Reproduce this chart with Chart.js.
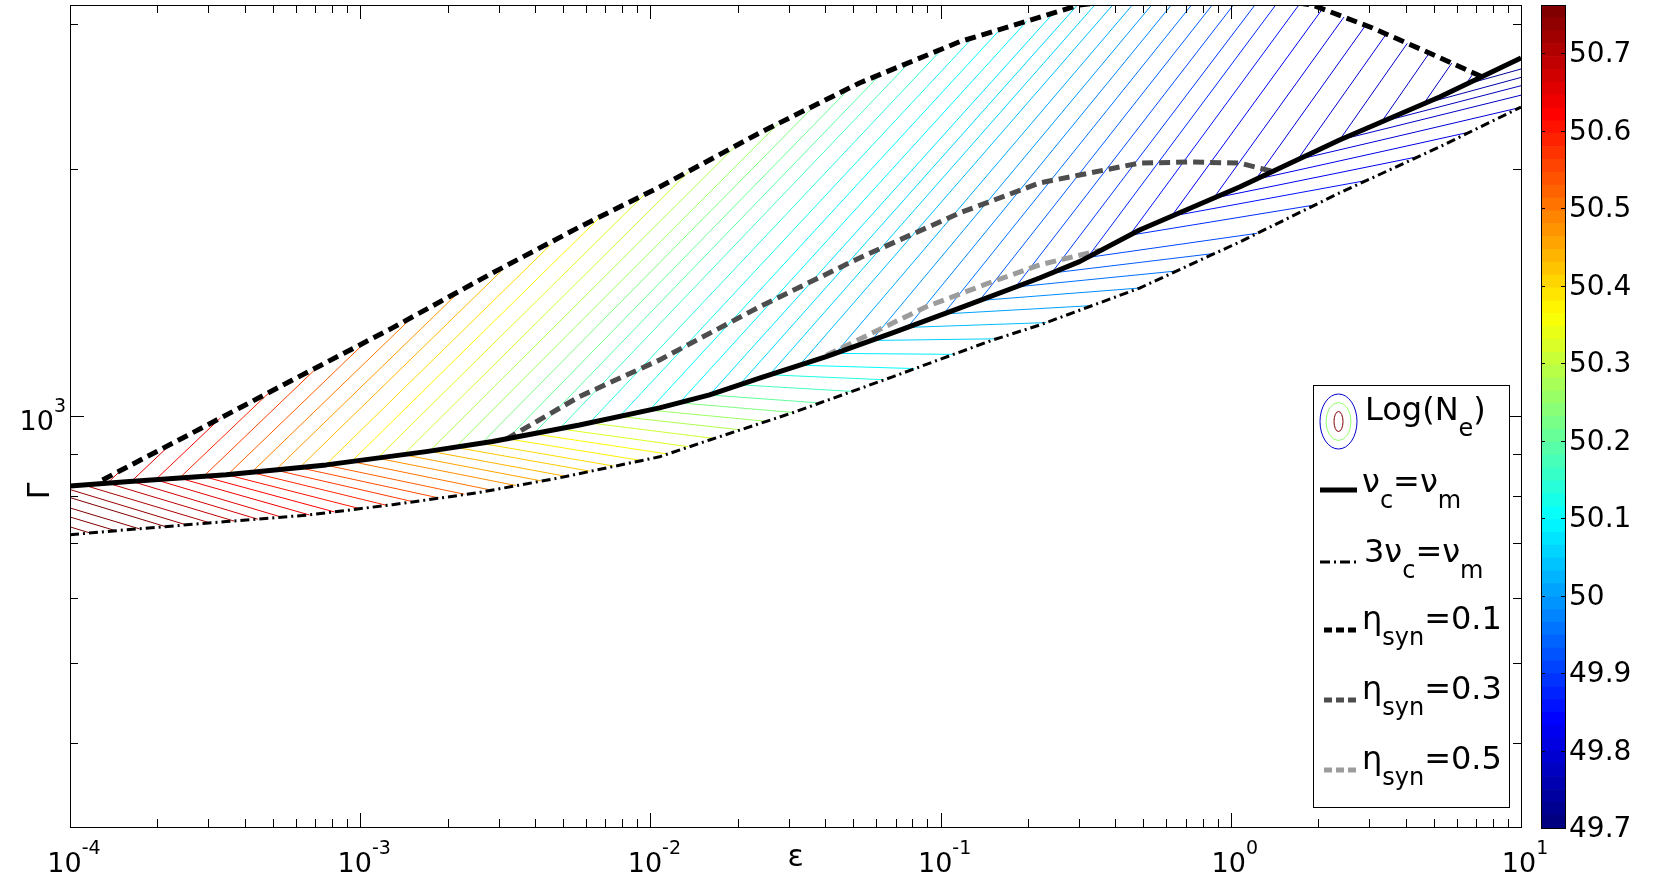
<!DOCTYPE html>
<html>
<head>
<meta charset="utf-8">
<script src="https://cdn.jsdelivr.net/npm/chart.js@4.4.0/dist/chart.umd.min.js"></script>
<style>
  html, body { margin: 0; padding: 0; background: #fff; overflow: hidden; }
  #wrap { position: relative; width: 1680px; height: 875px; }
  #main { position: absolute; left: 0; top: 0; }
  #cbar { position: absolute; left: 1541px; top: 0; }
</style>
</head>
<body>
<div id="wrap">
  <canvas id="main" width="1680" height="875"></canvas>
  <canvas id="cbar" width="139" height="875"></canvas>
</div>
<script>
// ---- boundary curves (epsilon, Gamma) ----
const nuEqEps   = [1e-4, 1.562e-4, 3.453e-4, 7.636e-4, 1.688e-3, 2.857e-3, 5.697e-3, 1.075e-2, 1.599e-2, 2.377e-2, 4.035e-2, 6.830e-2, 0.1162, 0.2193, 0.3011, 0.4849, 1.072, 2.370, 5.240, 10];
const nuEqGamma = [822, 832, 848, 872, 905, 931, 975, 1023, 1061, 1112, 1181, 1262, 1353, 1472, 1541, 1684, 1899, 2167, 2444, 2726];

const nu3Eps   = [1e-4, 1.562e-4, 3.453e-4, 6.687e-4, 1.292e-3, 2.510e-3, 4.862e-3, 1.075e-2, 1.599e-2, 3.088e-2, 6.830e-2, 0.1510, 0.2193, 0.4849, 1.072, 2.370, 5.240, 10];
const nu3Gamma = [717, 727, 744, 758, 780, 806, 841, 892, 935, 1009, 1116, 1237, 1290, 1431, 1628, 1868, 2125, 2376];

const eta01Eps   = [1.294e-4, 2.643e-4, 5.845e-4, 1.292e-3, 2.857e-3, 5.697e-3, 1.075e-2, 2.377e-2, 5.256e-2, 0.1162, 0.3011, 0.78, 1.912, 3.079, 4.579, 7.372];
const eta01Gamma = [836, 954, 1106, 1280, 1493, 1698, 1899, 2210, 2542, 2853, 3162, 3300, 3162, 2965, 2788, 2584];

const eta03Eps   = [3.185e-3, 5.697e-3, 1.075e-2, 2.377e-2, 5.256e-2, 0.1162, 0.2193, 0.3011, 0.4849, 0.7209, 1.072, 1.393];
const eta03Gamma = [937, 1056, 1170, 1358, 1557, 1766, 1921, 1964, 2031, 2037, 2031, 1984];

const eta05Eps   = [4.035e-2, 8.924e-2, 0.1510, 0.2193, 0.3529];
const eta05Gamma = [1185, 1358, 1457, 1527, 1590];

// ---- Log(Ne) contour lines ----
// points per line: (upper end, kink on nu_c=nu_m, lower end); lines entering from the left edge have 2 points
// lowerLevels colour the branch below nu_c=nu_m, upperLevels the branch above it
const lowerLevels = [50.82, 50.80, 50.78, 50.76, 50.74,
  50.72, 50.70, 50.68, 50.66, 50.65, 50.63, 50.61, 50.59, 50.57, 50.55,
  50.53, 50.51, 50.48, 50.46, 50.44, 50.42, 50.40, 50.38, 50.36, 50.33,
  50.31, 50.28, 50.26, 50.23, 50.20, 50.17, 50.13, 50.10,
  50.08, 50.05, 50.03, 50.00, 49.98, 49.95, 49.93, 49.91,
  49.88, 49.85, 49.82, 49.81, 49.79, 49.77, 49.76, 49.74, 49.72];

const upperLevels = [null, null, null, null, null,
  null, 50.68, 50.65, 50.62, 50.59, 50.56, 50.53, 50.50, 50.47, 50.44,
  50.40, 50.37, 50.33, 50.31, 50.28, 50.26, 50.23, 50.21, 50.19, 50.17,
  50.14, 50.12, 50.10, 50.09, 50.07, 50.06, 50.05, 50.03,
  50.01, 49.99, 49.97, 49.95, 49.93, 49.91, 49.89, 49.87,
  49.85, 49.83, 49.81, 49.80, 49.79, 49.78, 49.77, 49.76, 49.75];

const contourEps = [
  [1e-4, 1.178e-4], [1e-4, 1.444e-4], [1e-4, 1.737e-4], [1e-4, 2.137e-4], [1e-4, 2.522e-4],
  [1.113e-4, 3.042e-4],
  [1.500e-4, 1.347e-4, 3.674e-4],
  [2.222e-4, 1.629e-4, 4.434e-4],
  [3.299e-4, 1.971e-4, 5.364e-4],
  [4.862e-4, 2.384e-4, 6.683e-4],
  [7.139e-4, 2.884e-4, 8.156e-4],
  [1.046e-3, 3.489e-4, 9.945e-4],
  [1.505e-3, 4.221e-4, 1.234e-3],
  [2.158e-3, 5.107e-4, 1.518e-3],
  [3.086e-3, 6.179e-4, 1.867e-3],
  [4.537e-3, 7.593e-4, 2.285e-3],
  [6.742e-3, 9.333e-4, 2.817e-3],
  [9.536e-3, 1.147e-3, 3.435e-3],
  [1.369e-2, 1.410e-3, 4.194e-3],
  [1.970e-2, 1.733e-3, 5.100e-3],
  [2.757e-2, 2.130e-3, 6.174e-3],
  [3.689e-2, 2.618e-3, 7.475e-3],
  [4.874e-2, 3.218e-3, 9.224e-3],
  [6.199e-2, 3.956e-3, 1.137e-2],
  [7.797e-2, 4.862e-3, 1.350e-2],
  [0.1012, 6.169e-3, 1.649e-2],
  [0.1285, 7.827e-3, 2.033e-2],
  [0.1601, 9.930e-3, 2.501e-2],
  [0.1978, 1.260e-2, 3.118e-2],
  [0.2444, 1.599e-2, 3.848e-2],
  [0.2942, 2.028e-2, 4.961e-2],
  [0.3400, 2.573e-2, 6.382e-2],
  [0.3918, 3.265e-2, 8.124e-2],
  [0.4578, 4.345e-2, 0.1105],
  [0.5336, 5.781e-2, 0.1555],
  [0.6239, 7.692e-2, 0.2308],
  [0.7323, 0.1023, 0.3325],
  [0.8630, 0.1362, 0.4852],
  [1.021, 0.1812, 0.6501],
  [1.211, 0.2411, 0.8825],
  [1.428, 0.3208, 1.234],
  [1.716, 0.4477, 1.959],
  [2.071, 0.6249, 2.950],
  [2.456, 0.8720, 4.449],
  [2.913, 1.217, 6.696],
  [3.433, 1.698, 9.911],
  [4.055, 2.370, 10],
  [4.829, 3.307, 10],
  [5.773, 4.616, 10],
  [6.863, 6.440, 10]
];

const contourGamma = [
  [733.0, 720.2], [753.6, 724.8], [772.9, 728.9], [795.7, 733.4], [813.8, 736.9],
  [824.3, 741.1],
  [859.3, 828.7, 745.1],
  [924.0, 832.9, 749.0],
  [994.5, 836.6, 753.2],
  [1068.3, 840.4, 757.9],
  [1147.4, 844.2, 764.3],
  [1231.7, 848.0, 771.6],
  [1317.3, 853.7, 778.6],
  [1408.3, 859.4, 786.7],
  [1504.9, 865.2, 794.9],
  [1616.3, 871.6, 803.2],
  [1749.0, 880.2, 812.8],
  [1859.6, 888.6, 823.2],
  [1989.4, 897.3, 833.9],
  [2131.7, 906.2, 844.7],
  [2268.3, 916.1, 856.9],
  [2387.8, 926.2, 869.2],
  [2507.8, 938.2, 883.1],
  [2603.1, 951.4, 899.3],
  [2690.9, 964.9, 917.7],
  [2795.2, 980.9, 939.3],
  [2882.0, 998.7, 962.1],
  [2951.8, 1016.7, 985.4],
  [3020, 1037.7, 1009.7],
  [3090, 1060.6, 1037.1],
  [3154, 1091.4, 1071.3],
  [3162.3, 1122.4, 1106.9],
  [3162.3, 1153.0, 1142.1],
  [3162.3, 1191.7, 1188.5],
  [3162.3, 1235.6, 1241.4],
  [3162.3, 1281.7, 1299.0],
  [3162.3, 1330.8, 1362.4],
  [3162.3, 1382.0, 1431.2],
  [3162.3, 1435.3, 1501.1],
  [3162.3, 1492.3, 1577.2],
  [3162.3, 1558.9, 1668.4],
  [3162.3, 1658.9, 1806.8],
  [3129, 1750.1, 1935.1],
  [3058, 1840.6, 2068.7],
  [2987, 1939.6, 2216.2],
  [2915, 2050.3, 2372.5],
  [2840, 2166.5, 2456.4],
  [2764, 2279.2, 2522.3],
  [2687, 2397.2, 2581.7],
  [2614, 2531.0, 2643.0]
];

// ---- axes / colorbar ticks ----
const epsRange = [1e-4, 10];
const gammaRange = [316.2278, 3162.278];
const xMajorTicks = [1e-4, 1e-3, 1e-2, 1e-1, 1, 10];
const xTickExponents = ['-4', '-3', '-2', '-1', '0', '1'];
const minorMultipliers = [2, 3, 4, 5, 6, 7, 8, 9];
const yMajorTicks = [1000];
const yTickExponents = ['3'];
const yMinorTicks = [400, 500, 600, 700, 800, 900, 2000, 3000];
const cbRange = [49.7, 50.762];
const cbTicks = [49.7, 49.8, 49.9, 50.0, 50.1, 50.2, 50.3, 50.4, 50.5, 50.6, 50.7];
const cbLabels = ['49.7', '49.8', '49.9', '50', '50.1', '50.2', '50.3', '50.4', '50.5', '50.6', '50.7'];
const cbColors = 64;

const FONT = '"DejaVu Sans", "Liberation Sans", sans-serif';

function jet(t) {
  t = Math.max(0, Math.min(1, t));
  var c = function (v) { return Math.round(255 * Math.max(0, Math.min(1, 1.5 - Math.abs(v)))); };
  return 'rgb(' + c(4 * t - 3) + ',' + c(4 * t - 2) + ',' + c(4 * t - 1) + ')';
}
function levelColor(v) {
  return jet((v - cbRange[0]) / (cbRange[1] - cbRange[0]));
}
function pts(xs, ys) {
  return xs.map(function (x, i) { return { x: x, y: ys[i] }; });
}

var lineBase = { showLine: true, pointRadius: 0, pointHoverRadius: 0, fill: false, tension: 0, clip: 0,
                 borderCapStyle: 'butt', borderJoinStyle: 'round' };

var datasets = [
  Object.assign({ label: 'nu_c=nu_m', data: pts(nuEqEps, nuEqGamma), borderColor: '#000', borderWidth: 5, order: 0 }, lineBase),
  Object.assign({ label: '3nu_c=nu_m', data: pts(nu3Eps, nu3Gamma), borderColor: '#000', borderWidth: 3, borderDash: [9, 4, 2, 4], order: 0 }, lineBase),
  Object.assign({ label: 'eta_syn=0.1', data: pts(eta01Eps, eta01Gamma), borderColor: '#000', borderWidth: 5, borderDash: [11, 6], order: 0 }, lineBase),
  Object.assign({ label: 'eta_syn=0.3', data: pts(eta03Eps, eta03Gamma), borderColor: '#4d4d4d', borderWidth: 5, borderDash: [11, 6], order: 0 }, lineBase),
  Object.assign({ label: 'eta_syn=0.5', data: pts(eta05Eps, eta05Gamma), borderColor: '#9c9c9c', borderWidth: 5, borderDash: [11, 6], order: 0 }, lineBase)
];
contourEps.forEach(function (xs, i) {
  var line = pts(xs, contourGamma[i]);
  if (line.length === 3) {
    datasets.push(Object.assign({ label: 'Log(Ne) ' + upperLevels[i], data: line.slice(0, 2),
      borderColor: levelColor(upperLevels[i]), borderWidth: 1, order: 1 }, lineBase));
    line = line.slice(1);
  }
  datasets.push(Object.assign({ label: 'Log(Ne) ' + lowerLevels[i], data: line,
    borderColor: levelColor(lowerLevels[i]), borderWidth: 1, order: 1 }, lineBase));
});

function richText(ctx, parts, x, y) {
  var cx = x;
  parts.forEach(function (p) {
    ctx.font = p[1] + 'px ' + FONT;
    ctx.fillText(p[0], cx, y + p[2]);
    cx += ctx.measureText(p[0]).width;
  });
  return cx;
}
function richWidth(ctx, parts) {
  var w = 0;
  parts.forEach(function (p) { ctx.font = p[1] + 'px ' + FONT; w += ctx.measureText(p[0]).width; });
  return w;
}
function seg(ctx, x1, y1, x2, y2) {
  ctx.beginPath(); ctx.moveTo(x1, y1); ctx.lineTo(x2, y2); ctx.stroke();
}

var axesPlugin = {
  id: 'matlabAxes',
  afterDraw: function (chart) {
    var ctx = chart.ctx, a = chart.chartArea, xs = chart.scales.x, ys = chart.scales.y;
    ctx.save();
    ctx.strokeStyle = '#000';
    ctx.fillStyle = '#000';
    ctx.lineWidth = 1;
    ctx.setLineDash([]);
    ctx.strokeRect(a.left + 0.5, a.top + 0.5, a.right - a.left, a.bottom - a.top);

    // inward ticks on all four sides
    function xt(v, len) {
      var px = Math.round(xs.getPixelForValue(v)) + 0.5;
      seg(ctx, px, a.bottom, px, a.bottom - len);
      seg(ctx, px, a.top, px, a.top + len);
    }
    function yt(v, len) {
      var py = Math.round(ys.getPixelForValue(v)) + 0.5;
      seg(ctx, a.left, py, a.left + len, py);
      seg(ctx, a.right, py, a.right - len, py);
    }
    xMajorTicks.forEach(function (d, i) {
      xt(d, 14);
      if (i < xMajorTicks.length - 1) minorMultipliers.forEach(function (m) { xt(m * d, 8); });
    });
    yMajorTicks.forEach(function (v) { yt(v, 14); });
    yMinorTicks.forEach(function (v) { yt(v, 8); });

    // tick labels 10^k
    ctx.textAlign = 'left';
    ctx.textBaseline = 'alphabetic';
    xMajorTicks.forEach(function (d, i) {
      var parts = [['10', 27, 0], [xTickExponents[i], 19, -18]];
      var w = richWidth(ctx, parts);
      richText(ctx, parts, xs.getPixelForValue(d) - w / 2 + 4, 872);
    });
    yMajorTicks.forEach(function (v, i) {
      var parts = [['10', 27, 0], [yTickExponents[i], 19, -18]];
      var w = richWidth(ctx, parts);
      richText(ctx, parts, 66 - w, ys.getPixelForValue(v) + 14);
    });

    // axis titles
    ctx.font = '30px ' + FONT;
    ctx.textAlign = 'center';
    ctx.fillText('\u03b5', (a.left + a.right) / 2, 866);
    ctx.save();
    ctx.translate(41, 491);
    ctx.rotate(-Math.PI / 2);
    ctx.textBaseline = 'middle';
    ctx.fillText('\u0393', 0, 0);
    ctx.restore();

    // legend
    ctx.textAlign = 'left';
    ctx.textBaseline = 'alphabetic';
    ctx.fillStyle = '#fff';
    ctx.fillRect(1313.5, 385.5, 196, 422);
    ctx.strokeStyle = '#000';
    ctx.strokeRect(1313.5, 385.5, 196, 422);
    ctx.fillStyle = '#000';

    [[18.5, 27.5, levelColor(49.78)], [12.5, 19, levelColor(50.25)], [4.5, 10, levelColor(50.78)]].forEach(function (e) {
      ctx.strokeStyle = e[2];
      ctx.beginPath();
      ctx.ellipse(1338.5, 421.5, e[0], e[1], 0, 0, Math.PI * 2);
      ctx.stroke();
    });
    richText(ctx, [['Log(N', 32, 0], ['e', 24, 16], [')', 32, 0]], 1365, 420);

    ctx.strokeStyle = '#000';
    ctx.lineWidth = 5;
    seg(ctx, 1320, 490, 1357, 490);
    richText(ctx, [['\u03bd', 32, 0], ['c', 24, 16], ['=\u03bd', 32, 0], ['m', 24, 16]], 1362, 492);

    ctx.lineWidth = 3;
    ctx.setLineDash([10, 4, 2, 4]);
    seg(ctx, 1320, 562, 1356, 562);
    richText(ctx, [['3\u03bd', 32, 0], ['c', 24, 16], ['=\u03bd', 32, 0], ['m', 24, 16]], 1364, 562);

    var etaRows = [['0.1', '#000', 630], ['0.3', '#4d4d4d', 700], ['0.5', '#9c9c9c', 770]];
    etaRows.forEach(function (r) {
      ctx.strokeStyle = r[1];
      ctx.lineWidth = 5;
      ctx.setLineDash([8, 4]);
      seg(ctx, 1324, r[2], 1358, r[2]);
      ctx.setLineDash([]);
      richText(ctx, [['\u03b7', 32, 0], ['syn', 24, 16], ['=' + r[0], 32, 0]], 1362, r[2] - 1);
    });
    ctx.restore();
  }
};

Chart.defaults.font.family = FONT;

new Chart(document.getElementById('main'), {
  type: 'scatter',
  data: { datasets: datasets },
  options: {
    responsive: false,
    animation: false,
    devicePixelRatio: 1,
    events: [],
    layout: { padding: { left: 70, right: 159, top: 5, bottom: 48 } },
    plugins: { legend: { display: false }, tooltip: { enabled: false } },
    scales: {
      x: { type: 'logarithmic', min: epsRange[0], max: epsRange[1], display: false },
      y: { type: 'logarithmic', min: gammaRange[0], max: gammaRange[1], display: false }
    }
  },
  plugins: [axesPlugin]
});

// ---- colorbar ----
var cbSets = [];
var cbStep = (cbRange[1] - cbRange[0]) / cbColors;
for (var i = 0; i < cbColors; i++) {
  cbSets.push({
    data: [[cbRange[0] + i * cbStep, cbRange[0] + (i + 1) * cbStep]],
    backgroundColor: jet(i / (cbColors - 1)),
    borderWidth: 0,
    barPercentage: 1,
    categoryPercentage: 1,
    grouped: false
  });
}

var cbPlugin = {
  id: 'cbFrame',
  afterDraw: function (chart) {
    var ctx = chart.ctx, a = chart.chartArea, ys = chart.scales.y;
    ctx.save();
    ctx.strokeStyle = '#000';
    ctx.fillStyle = '#000';
    ctx.lineWidth = 1;
    ctx.strokeRect(a.left + 0.5, a.top + 0.5, a.right - a.left - 1, a.bottom - a.top);
    ctx.font = '28px ' + FONT;
    ctx.textAlign = 'left';
    ctx.textBaseline = 'middle';
    cbTicks.forEach(function (v, i) {
      var py = Math.round(ys.getPixelForValue(v)) + 0.5;
      seg(ctx, a.left, py, a.left + 4, py);
      seg(ctx, a.right - 5, py, a.right, py);
      ctx.fillText(cbLabels[i], a.right + 3, py + 1);
    });
    ctx.restore();
  }
};

new Chart(document.getElementById('cbar'), {
  type: 'bar',
  data: { labels: ['Log(Ne)'], datasets: cbSets },
  options: {
    responsive: false,
    animation: false,
    devicePixelRatio: 1,
    events: [],
    layout: { padding: { left: 0, right: 114, top: 5, bottom: 47 } },
    plugins: { legend: { display: false }, tooltip: { enabled: false } },
    scales: {
      x: { display: false },
      y: { min: cbRange[0], max: cbRange[1], display: false }
    }
  },
  plugins: [cbPlugin]
});
</script>
</body>
</html>
